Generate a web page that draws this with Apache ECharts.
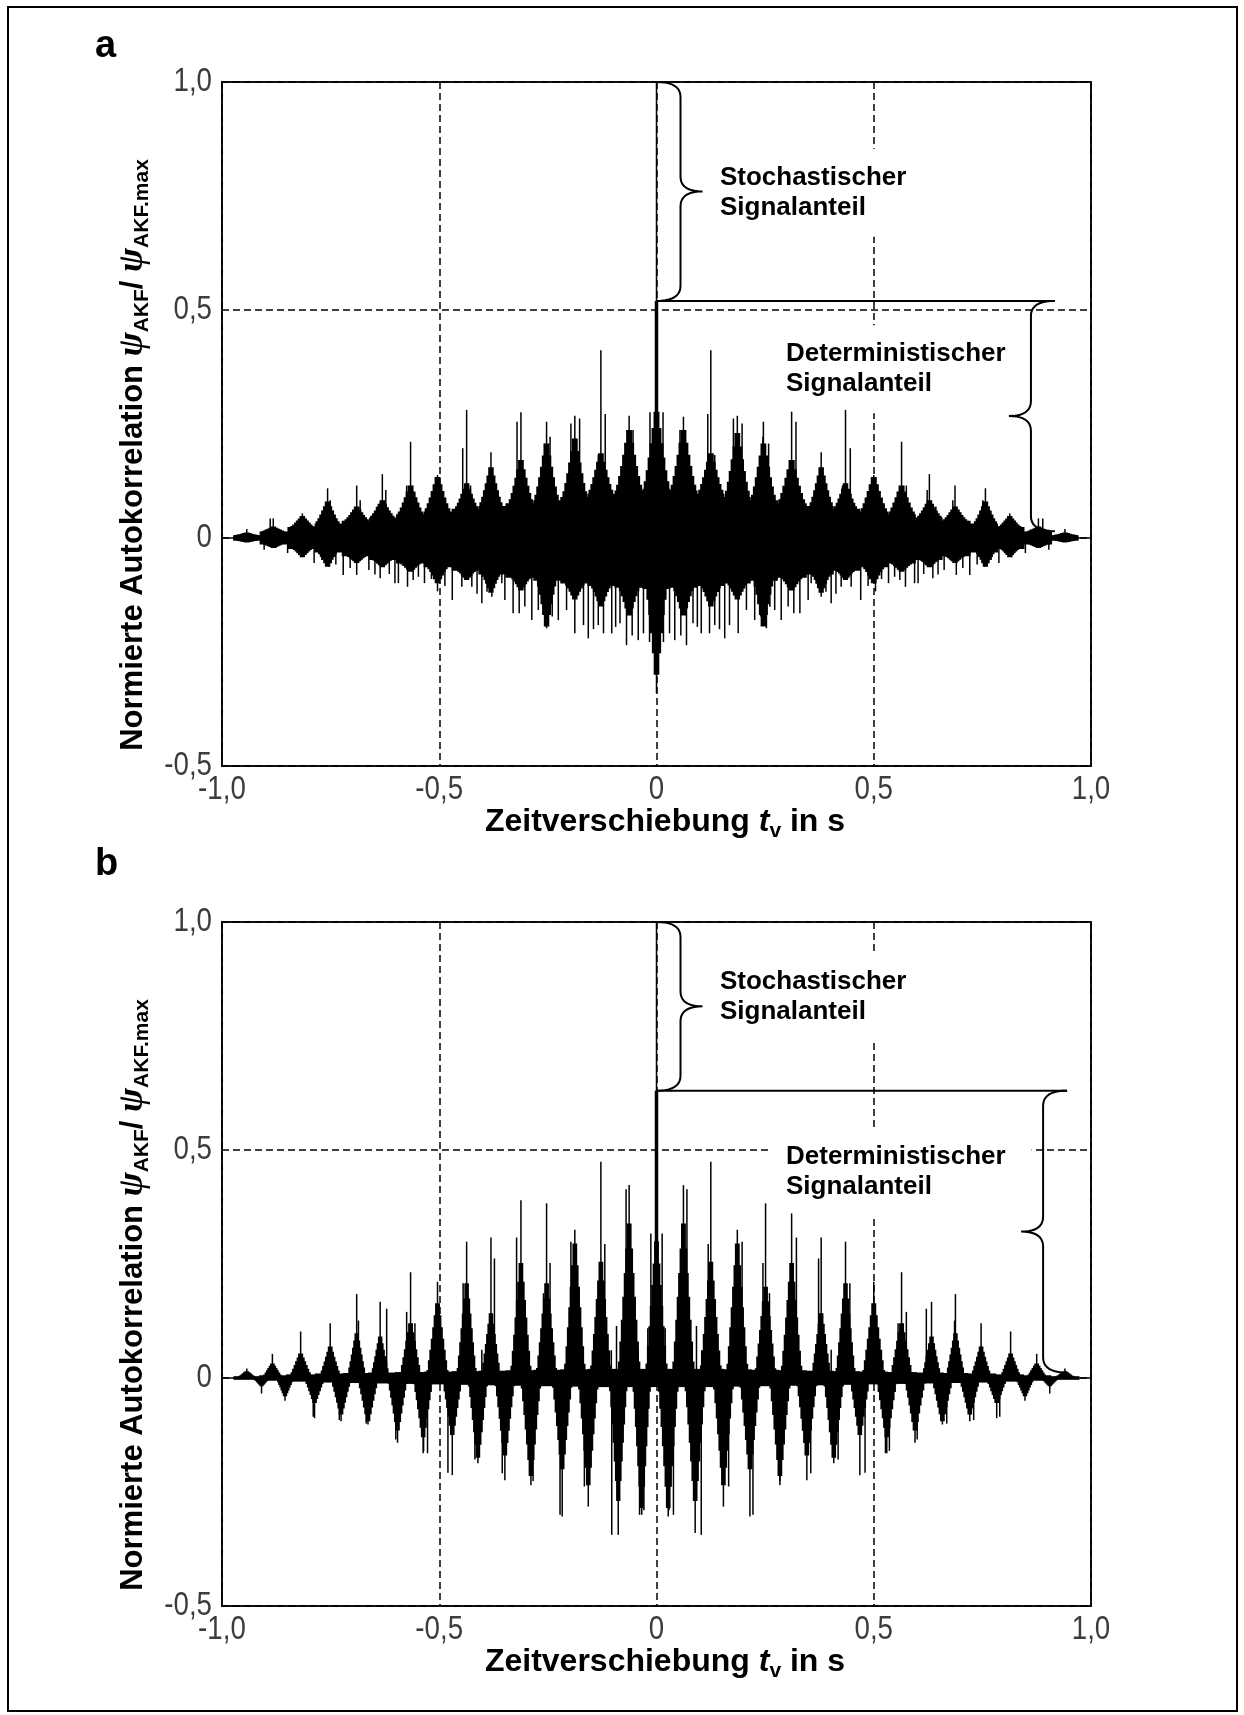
<!DOCTYPE html>
<html>
<head>
<meta charset="utf-8">
<script src="https://cdn.jsdelivr.net/npm/echarts@6/dist/echarts.min.js"></script>
<style>
  html, body { margin: 0; padding: 0; background: #fff; }
  #chart { width: 1244px; height: 1715px; }
</style>
</head>
<body>
<div id="chart"></div>
<script>
// ---------- axes ----------
const xTickValues = [-1, -0.5, 0, 0.5, 1];
const xTickLabels = ['-1,0', '-0,5', '0', '0,5', '1,0'];
const yTickValues = [-0.5, 0, 0.5, 1];
const yTickLabels = ['-0,5', '0', '0,5', '1,0'];

// ---------- panel a : measured autocorrelation ----------
// cluster centres (s) of the periodic component
const aT = [-0.943,-0.882,-0.815,-0.757,-0.690,-0.631,-0.566,-0.504,-0.437,-0.381,-0.312,-0.253,-0.188,-0.128,-0.063,0,
            0.062,0.125,0.186,0.246,0.311,0.379,0.435,0.500,0.564,0.628,0.687,0.757,0.813,0.879,0.940];
// tip of the thin main spike of each cluster
const aSpike = [0.020,0.043,0.054,0.109,0.115,0.140,0.211,0.138,0.281,0.188,0.276,0.255,0.268,0.412,0.268,1.000,
                0.266,0.412,0.268,0.255,0.277,0.188,0.281,0.138,0.211,0.140,0.115,0.109,0.054,0.043,0.020];
// top of the dense hill under each spike
const aHill = [0.012,0.025,0.048,0.080,0.069,0.083,0.115,0.134,0.120,0.155,0.171,0.207,0.218,0.186,0.237,0.277,
               0.237,0.186,0.230,0.207,0.171,0.155,0.120,0.134,0.115,0.083,0.069,0.080,0.048,0.025,0.012];
// upper edge of the dense band between clusters
const aValley = [0.006,0.014,0.024,0.032,0.038,0.045,0.052,0.058,0.064,0.070,0.076,0.083,0.090,0.097,0.104,0.108,
                 0.104,0.097,0.090,0.083,0.076,0.070,0.064,0.058,0.052,0.045,0.038,0.032,0.024,0.014,0.006];
// lower edge of the dense band
const aFloor = [-0.006,-0.014,-0.024,-0.032,-0.040,-0.048,-0.056,-0.064,-0.072,-0.080,-0.087,-0.094,-0.100,-0.105,-0.109,-0.112,
                -0.109,-0.105,-0.100,-0.094,-0.087,-0.080,-0.072,-0.064,-0.056,-0.048,-0.040,-0.032,-0.024,-0.014,-0.006];
// dense downward lobe under each cluster
const aLobe = [-0.010,-0.022,-0.042,-0.063,-0.055,-0.064,-0.074,-0.099,-0.092,-0.120,-0.115,-0.194,-0.135,-0.150,-0.170,-0.300,
               -0.170,-0.150,-0.135,-0.194,-0.115,-0.120,-0.092,-0.099,-0.074,-0.064,-0.055,-0.063,-0.042,-0.022,-0.010];
// secondary thin upward spikes [t, value]
const aSide = [[-0.889,0.043],[-0.751,0.083],[-0.682,0.083],[-0.643,0.069],[-0.623,0.105],[-0.575,0.115],[-0.557,0.098],
               [-0.446,0.197],[-0.428,0.115],[-0.321,0.255],[-0.258,0.207],[-0.245,0.222],[-0.197,0.251],[-0.177,0.262],
               [-0.134,0.182],[-0.118,0.272],[-0.074,0.178],[-0.054,0.237],[-0.017,0.145],[-0.015,0.276],
               [0.015,0.276],[0.017,0.145],[0.054,0.237],[0.074,0.178],[0.118,0.272],[0.134,0.182],[0.177,0.262],
               [0.197,0.251],[0.245,0.222],[0.258,0.207],[0.321,0.255],[0.428,0.115],[0.446,0.197],[0.557,0.098],
               [0.575,0.115],[0.623,0.105],[0.643,0.069],[0.682,0.083],[0.751,0.083],[0.889,0.043]];
// thin downward spikes [t, value]
const aComb = [[-0.903,-0.026],[-0.876,-0.022],[-0.849,-0.033],[-0.817,-0.042],[-0.788,-0.055],[-0.770,-0.048],[-0.755,-0.063],
               [-0.738,-0.058],[-0.721,-0.081],[-0.705,-0.066],[-0.690,-0.081],[-0.662,-0.070],[-0.648,-0.080],[-0.636,-0.088],
               [-0.615,-0.079],[-0.602,-0.099],[-0.594,-0.099],[-0.573,-0.107],[-0.560,-0.092],[-0.548,-0.085],[-0.534,-0.099],
               [-0.518,-0.090],[-0.504,-0.117],[-0.487,-0.105],[-0.470,-0.136],[-0.448,-0.107],[-0.425,-0.107],[-0.413,-0.122],
               [-0.402,-0.143],[-0.390,-0.118],[-0.379,-0.129],[-0.356,-0.099],[-0.349,-0.136],[-0.330,-0.165],[-0.316,-0.165],
               [-0.303,-0.150],[-0.287,-0.180],[-0.272,-0.158],[-0.261,-0.151],[-0.253,-0.198],[-0.240,-0.172],[-0.226,-0.180],
               [-0.207,-0.158],[-0.188,-0.209],[-0.168,-0.191],[-0.157,-0.220],[-0.145,-0.200],[-0.134,-0.191],[-0.122,-0.209],
               [-0.103,-0.209],[-0.094,-0.195],[-0.084,-0.187],[-0.069,-0.235],[-0.056,-0.214],[-0.042,-0.224],[-0.030,-0.209],
               [-0.016,-0.228],[0,-0.340],
               [0.016,-0.228],[0.030,-0.209],[0.042,-0.224],[0.056,-0.214],[0.069,-0.235],[0.084,-0.187],[0.094,-0.195],
               [0.103,-0.209],[0.122,-0.209],[0.134,-0.191],[0.145,-0.200],[0.157,-0.220],[0.168,-0.191],[0.188,-0.209],
               [0.207,-0.158],[0.226,-0.180],[0.240,-0.172],[0.253,-0.198],[0.261,-0.151],[0.272,-0.158],[0.287,-0.180],
               [0.303,-0.150],[0.316,-0.165],[0.330,-0.165],[0.349,-0.136],[0.356,-0.099],[0.379,-0.129],[0.390,-0.118],
               [0.402,-0.143],[0.413,-0.122],[0.425,-0.107],[0.448,-0.107],[0.470,-0.136],[0.487,-0.105],[0.504,-0.117],
               [0.518,-0.090],[0.534,-0.099],[0.548,-0.085],[0.560,-0.092],[0.573,-0.107],[0.594,-0.099],[0.602,-0.099],
               [0.615,-0.079],[0.636,-0.088],[0.648,-0.080],[0.662,-0.070],[0.690,-0.081],[0.705,-0.066],[0.721,-0.081],
               [0.738,-0.058],[0.755,-0.063],[0.770,-0.048],[0.788,-0.055],[0.817,-0.042],[0.849,-0.033],[0.876,-0.022],
               [0.903,-0.026]];
const aDet = 0.52;          // level of the deterministic share
const aBraceEnd = 0.917;    // right end of the level line / right brace
const aBraceBottom = 0.015;

// ---------- panel b ----------
const bT = [-0.943,-0.884,-0.819,-0.751,-0.690,-0.636,-0.566,-0.504,-0.437,-0.381,-0.312,-0.253,-0.188,-0.128,-0.063,0,
            0.062,0.125,0.186,0.251,0.311,0.379,0.435,0.500,0.564,0.633,0.688,0.747,0.815,0.875,0.940];
const bSpike = [0.021,0.053,0.102,0.120,0.184,0.167,0.232,0.211,0.299,0.308,0.390,0.383,0.325,0.474,0.423,1.000,
                0.423,0.474,0.325,0.383,0.361,0.308,0.299,0.211,0.232,0.167,0.184,0.120,0.102,0.053,0.021];
const bHill = [0.015,0.032,0.054,0.069,0.098,0.091,0.120,0.164,0.208,0.142,0.252,0.208,0.295,0.255,0.339,0.300,
               0.339,0.255,0.295,0.200,0.252,0.142,0.208,0.164,0.120,0.091,0.098,0.069,0.054,0.032,0.015];
const bBand = [0.004,0.006,0.008,0.010,0.011,0.012,0.013,0.014,0.015,0.016,0.017,0.018,0.019,0.020,0.020,0.020,
               0.020,0.020,0.019,0.018,0.017,0.016,0.015,0.014,0.013,0.012,0.011,0.010,0.008,0.006,0.004];
const bLowT = [-0.909,-0.855,-0.787,-0.726,-0.664,-0.596,-0.537,-0.470,-0.411,-0.349,-0.289,-0.217,-0.157,-0.088,-0.034,
               0.027,0.089,0.154,0.215,0.284,0.346,0.408,0.468,0.530,0.595,0.658,0.721,0.783,0.848,0.905];
const bLowSpike = [-0.034,-0.050,-0.088,-0.095,-0.102,-0.142,-0.165,-0.213,-0.187,-0.224,-0.235,-0.304,-0.282,-0.344,-0.300,
                   -0.304,-0.340,-0.282,-0.304,-0.235,-0.224,-0.187,-0.213,-0.165,-0.142,-0.102,-0.095,-0.088,-0.050,-0.034];
const bLowLobe = [-0.018,-0.040,-0.055,-0.080,-0.095,-0.115,-0.130,-0.125,-0.175,-0.170,-0.215,-0.200,-0.235,-0.270,-0.285,
                  -0.285,-0.270,-0.235,-0.200,-0.215,-0.170,-0.175,-0.125,-0.130,-0.115,-0.095,-0.080,-0.055,-0.040,-0.018];
const bSide = [[-0.686,0.126],[-0.621,0.152],[-0.575,0.145],[-0.556,0.120],[-0.445,0.208],[-0.402,0.062],[-0.373,0.262],
               [-0.322,0.308],[-0.260,0.186],[-0.245,0.252],[-0.197,0.299],[-0.119,0.294],[-0.104,0.061],[-0.092,0.114],
               [-0.070,0.414],[-0.042,0.065],[-0.020,0.109],[-0.013,0.317],
               [0.013,0.317],[0.020,0.109],[0.042,0.065],[0.070,0.414],[0.092,0.114],[0.104,0.061],[0.119,0.294],
               [0.197,0.299],[0.245,0.252],[0.260,0.186],[0.322,0.308],[0.373,0.262],[0.402,0.062],[0.445,0.208],
               [0.556,0.120],[0.575,0.145],[0.621,0.152],[0.686,0.126],
               [-0.790,-0.085],[-0.730,-0.092],[-0.668,-0.100],[-0.600,-0.135],[-0.536,-0.160],[-0.527,-0.165],[-0.480,-0.208],
               [-0.418,-0.179],[-0.355,-0.209],[-0.284,-0.226],[-0.222,-0.300],[-0.166,-0.238],[-0.103,-0.344],[-0.039,-0.300],
               [-0.029,-0.290],
               [0.029,-0.290],[0.039,-0.300],[0.103,-0.344],[0.166,-0.238],[0.222,-0.300],[0.284,-0.226],[0.355,-0.209],
               [0.418,-0.179],[0.480,-0.208],[0.527,-0.165],[0.536,-0.160],[0.600,-0.135],[0.668,-0.100],[0.730,-0.092],
               [0.790,-0.085]];
const bDet = 0.63;
const bBraceEnd = 0.945;
const bBraceBottom = 0.012;

// ---------- annotation texts ----------
const noteText = ['Stochastischer\nSignalanteil', 'Deterministischer\nSignalanteil'];
const noteT = [0.146, 0.298];
const aNoteV = [0.757, 0.370];
const bNoteV = [0.835, 0.452];

// ---------- drawing helpers ----------
const INK = '#000';
const FONT = 'Liberation Sans, Arial, sans-serif';
const TICKCOLOR = '#3c3c3c';

function tileBounds(ts, i, api) {
  const xc = api.coord([ts[i], 0])[0];
  const xp = i > 0 ? api.coord([ts[i - 1], 0])[0] : null;
  const xn = i < ts.length - 1 ? api.coord([ts[i + 1], 0])[0] : null;
  const hl = xp !== null ? (xc - xp) / 2 : (xn - xc) / 2;
  const hr = xn !== null ? (xn - xc) / 2 : (xc - xp) / 2;
  return { xc, hl, hr };
}

// stepped outline rising from a base level to an apex and back, left to right
function hillEdge(xc, hw, w0, yBase, yTop, n, pw) {
  const left = [[xc - hw, yBase]];
  const right = [[xc + hw, yBase]];
  for (let j = 1; j <= n; j++) {
    const y = yBase + (yTop - yBase) * Math.pow(j / n, pw);
    const a = (j - 1) / n, b = j / n;
    left.push([xc - hw + (hw - w0) * a, y], [xc - hw + (hw - w0) * b, y]);
    right.push([xc + hw - (hw - w0) * a, y], [xc + hw - (hw - w0) * b, y]);
  }
  return left.concat(right.reverse());
}

function yPix(api, v) { return api.coord([0, v])[1]; }

function renderBandA(params, api) {
  const i = params.dataIndex;
  const b = tileBounds(aT, i, api);
  const yH = yPix(api, api.value(1)), yV = yPix(api, api.value(2));
  const yF = yPix(api, api.value(3)), yL = yPix(api, api.value(4));
  const h = Math.min(b.hl, b.hr);
  const xl = b.xc - b.hl - 0.4, xr = b.xc + b.hr + 0.4;
  const top = [[xl, yV]].concat(hillEdge(b.xc, 0.95 * h, 1, yV, yH, 6, 1.3), [[xr, yV]]);
  const bot = [[xr, yF]].concat(hillEdge(b.xc, 0.75 * h, 1, yF, yL, 5, 1.3).reverse(), [[xl, yF]]);
  return { type: 'polygon', shape: { points: top.concat(bot) }, style: { fill: INK } };
}

function renderBodyB(params, api) {
  const i = params.dataIndex;
  const b = tileBounds(bT, i, api);
  const y0 = yPix(api, 0);
  const yH = yPix(api, api.value(1));
  const yU = yPix(api, api.value(2)), yD = yPix(api, -api.value(2));
  const h = Math.min(b.hl, b.hr);
  return {
    type: 'group',
    children: [
      { type: 'rect', shape: { x: b.xc - b.hl - 0.4, y: yU, width: b.hl + b.hr + 0.8, height: yD - yU }, style: { fill: INK } },
      { type: 'polygon', shape: { points: hillEdge(b.xc, 0.82 * h, 1, y0, yH, 7, 1.15) }, style: { fill: INK } }
    ]
  };
}

function renderLobeB(params, api) {
  const i = params.dataIndex;
  const b = tileBounds(bLowT, i, api);
  const y0 = yPix(api, 0);
  const yL = yPix(api, api.value(1));
  const h = Math.min(b.hl, b.hr);
  return { type: 'polygon', shape: { points: hillEdge(b.xc, 0.78 * h, 1, y0, yL, 7, 1.15) }, style: { fill: INK } };
}

function spikeRenderer(width) {
  return function (params, api) {
    const p0 = api.coord([api.value(0), 0]);
    const p1 = api.coord([api.value(0), api.value(1)]);
    return { type: 'line', shape: { x1: p0[0], y1: p0[1], x2: p1[0], y2: p1[1] },
             style: { stroke: INK, lineWidth: width } };
  };
}

function quad(p0, c, p1, n) {
  const out = [];
  for (let k = 1; k <= n; k++) {
    const s = k / n, u = 1 - s;
    out.push([u * u * p0[0] + 2 * u * s * c[0] + s * s * p1[0], u * u * p0[1] + 2 * u * s * c[1] + s * s * p1[1]]);
  }
  return out;
}

// curly brace: ends at x = value(0), spanning value(1)..value(2); value(3) = +1 cusp right, -1 cusp left
function renderBrace(params, api) {
  const top = api.coord([api.value(0), api.value(1)]);
  const yB = yPix(api, api.value(2));
  const dir = api.value(3);
  const xe = top[0], yT = top[1], yM = (yT + yB) / 2;
  const xs = xe + dir * 24, xc = xe + dir * 46, r = 15;
  let pts = [[xe, yT]];
  pts = pts.concat(quad([xe, yT], [xs, yT], [xs, yT + r], 10));
  pts.push([xs, yM - r]);
  pts = pts.concat(quad([xs, yM - r], [xs, yM], [xc, yM], 10));
  pts = pts.concat(quad([xc, yM], [xs, yM], [xs, yM + r], 10));
  pts.push([xs, yB - r]);
  pts = pts.concat(quad([xs, yB - r], [xs, yB], [xe, yB], 10));
  return { type: 'polyline', shape: { points: pts }, style: { stroke: INK, lineWidth: 2, fill: null } };
}

function renderLevel(params, api) {
  const p0 = api.coord([api.value(0), api.value(1)]);
  const p1 = api.coord([api.value(2), api.value(1)]);
  return { type: 'line', shape: { x1: p0[0], y1: p0[1], x2: p1[0], y2: p1[1] }, style: { stroke: INK, lineWidth: 2 } };
}

function renderNote(params, api) {
  const p = api.coord([api.value(0), api.value(1)]);
  const padL = 18;
  return {
    type: 'text',
    x: p[0] - padL, y: p[1],
    style: {
      text: noteText[params.dataIndex],
      fontFamily: FONT, fontSize: 26, fontWeight: 'bold', fill: INK,
      lineHeight: 30, align: 'left', verticalAlign: 'middle',
      backgroundColor: '#fff', padding: [14, 26, 14, padL]
    }
  };
}

// tick labels in a slightly condensed face, placed through the axis scales
function renderXTick(params, api) {
  const p = api.coord([api.value(0), -0.5]);
  return { type: 'text', x: p[0], y: p[1] + 24, scaleX: 0.84,
           style: { text: xTickLabels[params.dataIndex], fontFamily: FONT, fontSize: 33, fill: TICKCOLOR,
                    align: 'center', verticalAlign: 'middle' } };
}
function renderYTick(params, api) {
  const p = api.coord([-1, api.value(1)]);
  return { type: 'text', x: p[0] - 10, y: p[1], scaleX: 0.84,
           style: { text: yTickLabels[params.dataIndex], fontFamily: FONT, fontSize: 33, fill: TICKCOLOR,
                    align: 'right', verticalAlign: 'middle' } };
}

function axisPair(gi) {
  const common = {
    gridIndex: gi, type: 'value', interval: 0.5,
    axisLine: { show: false }, axisTick: { show: false }, axisLabel: { show: false },
    splitLine: { show: true, lineStyle: { type: [7, 4], color: INK, width: 1.5 } }
  };
  return {
    x: Object.assign({ min: -1, max: 1 }, common),
    y: Object.assign({ min: -0.5, max: 1 }, common)
  };
}

function panelSeries(gi, parts) {
  return parts.map(s => Object.assign({ xAxisIndex: gi, yAxisIndex: gi, silent: true, animation: false }, s));
}

const zeroLine = {
  silent: true, symbol: 'none', label: { show: false },
  lineStyle: { type: 'solid', color: INK, width: 1.5 }, data: [{ yAxis: 0 }]
};

function tickSeries() {
  return [
    { type: 'custom', z: 2, renderItem: renderXTick, data: xTickValues.map(v => [v, -0.5]) },
    { type: 'custom', z: 2, renderItem: renderYTick, data: yTickValues.map(v => [-1, v]) }
  ];
}

const seriesA = panelSeries(0, [
  { type: 'custom', z: 4, renderItem: renderBandA, markLine: zeroLine,
    data: aT.map((t, i) => [t, aHill[i], aValley[i], aFloor[i], aLobe[i]]) },
  { type: 'custom', z: 5, renderItem: spikeRenderer(1.5), data: aT.map((t, i) => [t, aSpike[i]]) },
  { type: 'custom', z: 5, renderItem: spikeRenderer(1.5), data: aSide },
  { type: 'custom', z: 5, renderItem: spikeRenderer(1.5), data: aComb },
  { type: 'custom', z: 5, renderItem: spikeRenderer(3.5), data: [[0, aDet]] },
  { type: 'custom', z: 3, renderItem: renderNote, data: noteT.map((t, i) => [t, aNoteV[i]]) },
  { type: 'custom', z: 6, renderItem: renderLevel, data: [[0, aDet, aBraceEnd]] },
  { type: 'custom', z: 6, renderItem: renderBrace, data: [[0, 1.0, aDet, 1], [aBraceEnd, aDet, aBraceBottom, -1]] }
].concat(tickSeries()));

const seriesB = panelSeries(1, [
  { type: 'custom', z: 4, renderItem: renderBodyB, markLine: zeroLine,
    data: bT.map((t, i) => [t, bHill[i], bBand[i]]) },
  { type: 'custom', z: 4, renderItem: renderLobeB, data: bLowT.map((t, i) => [t, bLowLobe[i]]) },
  { type: 'custom', z: 5, renderItem: spikeRenderer(1.5), data: bT.map((t, i) => [t, bSpike[i]]) },
  { type: 'custom', z: 5, renderItem: spikeRenderer(1.5), data: bLowT.map((t, i) => [t, bLowSpike[i]]) },
  { type: 'custom', z: 5, renderItem: spikeRenderer(1.5), data: bSide },
  { type: 'custom', z: 5, renderItem: spikeRenderer(3.5), data: [[0, bDet]] },
  { type: 'custom', z: 3, renderItem: renderNote, data: noteT.map((t, i) => [t, bNoteV[i]]) },
  { type: 'custom', z: 6, renderItem: renderLevel, data: [[0, bDet, bBraceEnd]] },
  { type: 'custom', z: 6, renderItem: renderBrace, data: [[0, 1.0, bDet, 1], [bBraceEnd, bDet, bBraceBottom, -1]] }
].concat(tickSeries()));

// ---------- titles ----------
const yTitleRich = {
  n: { fontFamily: FONT, fontSize: 31, fontWeight: 'bold', fill: INK, lineHeight: 40 },
  p: { fontFamily: 'Liberation Serif, serif', fontSize: 36, fontWeight: 'bold', fontStyle: 'italic', fill: INK, lineHeight: 40 },
  s: { fontFamily: FONT, fontSize: 21, fontWeight: 'bold', fill: INK, lineHeight: 22, verticalAlign: 'bottom' }
};
const xTitleRich = {
  n: { fontFamily: FONT, fontSize: 32, fontWeight: 'bold', fill: INK, lineHeight: 40 },
  i: { fontFamily: FONT, fontSize: 32, fontWeight: 'bold', fontStyle: 'italic', fill: INK, lineHeight: 40 },
  s: { fontFamily: FONT, fontSize: 21, fontWeight: 'bold', fill: INK, lineHeight: 22, verticalAlign: 'bottom' }
};
const yTitle = '{n|Normierte Autokorrelation }{p|ψ}{s|AKF}{n|/ }{p|ψ}{s|AKF.max}';
const xTitle = '{n|Zeitverschiebung }{i|t}{s|v}{n| in s}';

function titles(dy) {
  return [
    { type: 'text', x: 133, y: 455 + dy, rotation: Math.PI / 2,
      style: { text: yTitle, rich: yTitleRich, align: 'center', verticalAlign: 'middle' } },
    { type: 'text', x: 665, y: 822 + dy,
      style: { text: xTitle, rich: xTitleRich, align: 'center', verticalAlign: 'middle' } }
  ];
}

const chart = echarts.init(document.getElementById('chart'), null, { renderer: 'canvas' });
const ax0 = axisPair(0), ax1 = axisPair(1);
chart.setOption({
  animation: false,
  backgroundColor: '#fff',
  grid: [
    { left: 222, top: 82, width: 869, height: 684, show: true, borderColor: '#111', borderWidth: 2 },
    { left: 222, top: 922, width: 869, height: 684, show: true, borderColor: '#111', borderWidth: 2 }
  ],
  xAxis: [ax0.x, ax1.x],
  yAxis: [ax0.y, ax1.y],
  series: seriesA.concat(seriesB),
  graphic: [
    { type: 'rect', shape: { x: 8, y: 7, width: 1229, height: 1704 }, style: { fill: null, stroke: INK, lineWidth: 2 } },
    { type: 'text', x: 95, y: 47, style: { text: 'a', fontFamily: FONT, fontSize: 38, fontWeight: 'bold', fill: INK, verticalAlign: 'middle' } },
    { type: 'text', x: 95, y: 865, style: { text: 'b', fontFamily: FONT, fontSize: 38, fontWeight: 'bold', fill: INK, verticalAlign: 'middle' } }
  ].concat(titles(0), titles(840))
});
</script>
</body>
</html>
